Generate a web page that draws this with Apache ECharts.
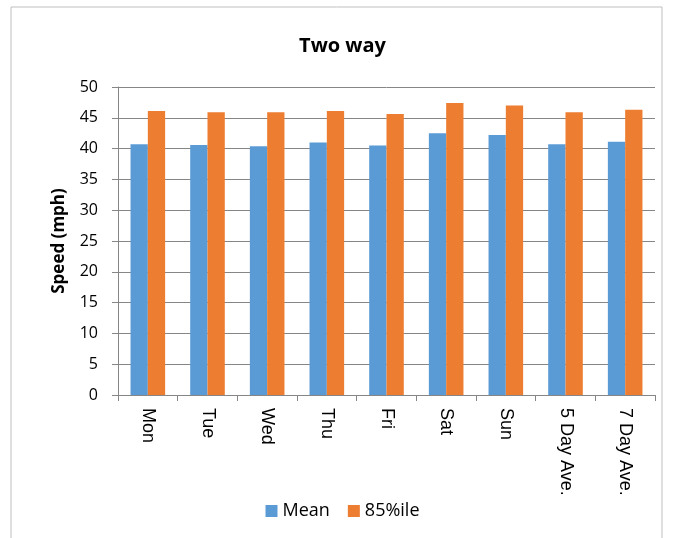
<!DOCTYPE html>
<html><head><meta charset="utf-8">
<script src="https://cdn.jsdelivr.net/npm/echarts@6/dist/echarts.min.js"></script>
<style>html,body{margin:0;padding:0;background:#fff}#c{width:685px;height:538px}</style>
</head><body><div id="c"></div>
<script>
var categories = ["Mon","Tue","Wed","Thu","Fri","Sat","Sun","5 Day Ave.","7 Day Ave."];
var meanValues = [40.7,40.6,40.4,41.0,40.5,42.5,42.2,40.7,41.1];
var p85Values = [46.1,45.9,45.9,46.1,45.6,47.4,47.0,45.9,46.3];
var seriesNames = ["Mean","85%ile"];
var yTicks = {min:0,max:50,interval:5};

var chart = echarts.init(document.getElementById('c'));
var font = '"Open Sans", "Liberation Sans", sans-serif';
chart.setOption({
  animation:false,
  backgroundColor:'#fff',
  graphic:[{type:'rect',shape:{x:11,y:7,width:651,height:560},style:{fill:'none',stroke:'#bfbfbf',lineWidth:1}}],
  title:{text:'Two way',left:'center',top:31,textStyle:{fontFamily:font,fontWeight:'bold',fontSize:20,color:'#000'}},
  legend:{data:seriesNames,bottom:13,left:'center',itemWidth:12,itemHeight:12,itemGap:18,icon:'rect',
    textStyle:{fontFamily:font,fontSize:18,color:'#000'}},
  grid:{left:118,right:30,top:87,bottom:143,containLabel:false},
  xAxis:{type:'category',data:categories,
    axisLine:{lineStyle:{color:'#868686'}},
    axisTick:{show:true,length:6,lineStyle:{color:'#868686'}},
    axisLabel:{rotate:-90,margin:13,fontFamily:'"Liberation Sans", Arial, sans-serif',fontSize:18,color:'#000',interval:0}},
  yAxis:{type:'value',min:yTicks.min,max:yTicks.max,interval:yTicks.interval,
    name:'Speed (mph)',nameLocation:'middle',nameGap:50,nameRotate:90,
    nameTextStyle:{fontFamily:font,fontWeight:'bold',fontSize:17,color:'#000'},
    axisLine:{show:true,lineStyle:{color:'#868686'}},
    axisTick:{show:true,length:6,lineStyle:{color:'#868686'}},
    axisLabel:{fontFamily:font,fontSize:16,color:'#000',margin:20},
    splitLine:{lineStyle:{color:'#868686'}}},
  series:[
    {name:seriesNames[0],type:'bar',data:meanValues,itemStyle:{color:'#5B9BD5'},barGap:'0%',barCategoryGap:'42%'},
    {name:seriesNames[1],type:'bar',data:p85Values,itemStyle:{color:'#ED7D31'},barGap:'0%',barCategoryGap:'42%'}
  ]
});
</script></body></html>
